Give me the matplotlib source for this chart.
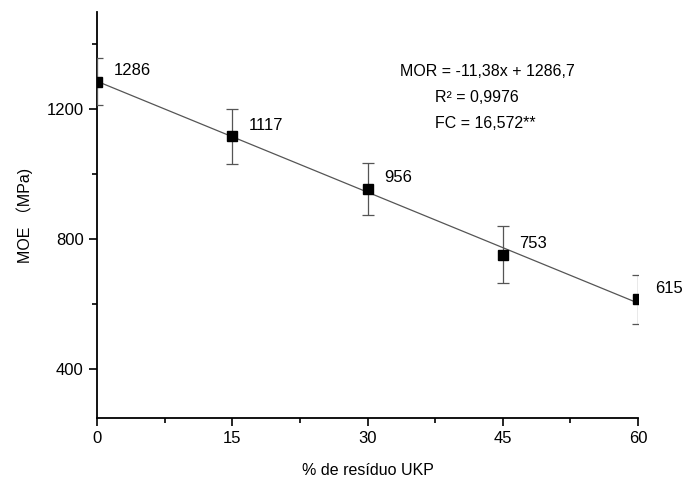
import matplotlib.pyplot as plt
import numpy as np

plt.rcParams['font.family'] = ['Liberation Sans', 'Noto Sans CJK SC', 'DejaVu Sans']

# data
residuo = [0, 15, 30, 45, 60]
moe = [1286, 1117, 956, 753, 615]
moe_err = [73, 85, 80, 87, 76]
labels = ['1286', '1117', '956', '753', '615']
slope, intercept = -11.38, 1286.7
eq_lines = ['MOR = -11,38x + 1286,7', 'R² = 0,9976', 'FC = 16,572**']

W, H = 687, 486
fig = plt.figure(figsize=(W / 100, H / 100), dpi=100)
ax = fig.add_axes([97 / W, 1 - 418 / H, (638 - 97) / W, (418 - 12) / H])

# regression line
xfit = np.array([0, 60])
ax.plot(xfit, slope * xfit + intercept, color='#555555', lw=0.9, zorder=2)

# points with error bars
ax.errorbar(residuo, moe, yerr=moe_err, fmt='s', color='black', ms=6.5,
            ecolor='#555555', elinewidth=0.9, capsize=4, capthick=0.9, zorder=3)

# value labels
for x, y, t in zip(residuo, moe, labels):
    ax.annotate(t, (x, y), xytext=(12, 8), textcoords='offset points',
                fontsize=12, ha='left', va='center')

# equation
ax.text(400 / W, 1 - 72 / H, eq_lines[0], transform=fig.transFigure, fontsize=11.5, va='center')
ax.text(435 / W, 1 - 98 / H, eq_lines[1], transform=fig.transFigure, fontsize=11.5, va='center')
ax.text(435 / W, 1 - 123 / H, eq_lines[2], transform=fig.transFigure, fontsize=11.5, va='center')

ax.set_xlim(0, 60)
ax.set_ylim(250, 1500)
ax.set_xticks([0, 15, 30, 45, 60])
ax.set_xticks([7.5, 22.5, 37.5, 52.5], minor=True)
ax.set_yticks([400, 800, 1200])
ax.set_yticks([600, 1000, 1400], minor=True)

for s in ['top', 'right']:
    ax.spines[s].set_visible(False)
for s in ['left', 'bottom']:
    ax.spines[s].set_linewidth(1.3)

ax.tick_params(which='major', direction='out', length=6, width=1.2, labelsize=12)
ax.tick_params(which='minor', direction='out', length=3.5, width=1.2)

ax.set_xlabel('% de resíduo UKP', fontsize=11.5, labelpad=12)
ax.set_ylabel('MOE （MPa)', fontsize=11.5, labelpad=10)

fig.savefig('out.png', dpi=100)
